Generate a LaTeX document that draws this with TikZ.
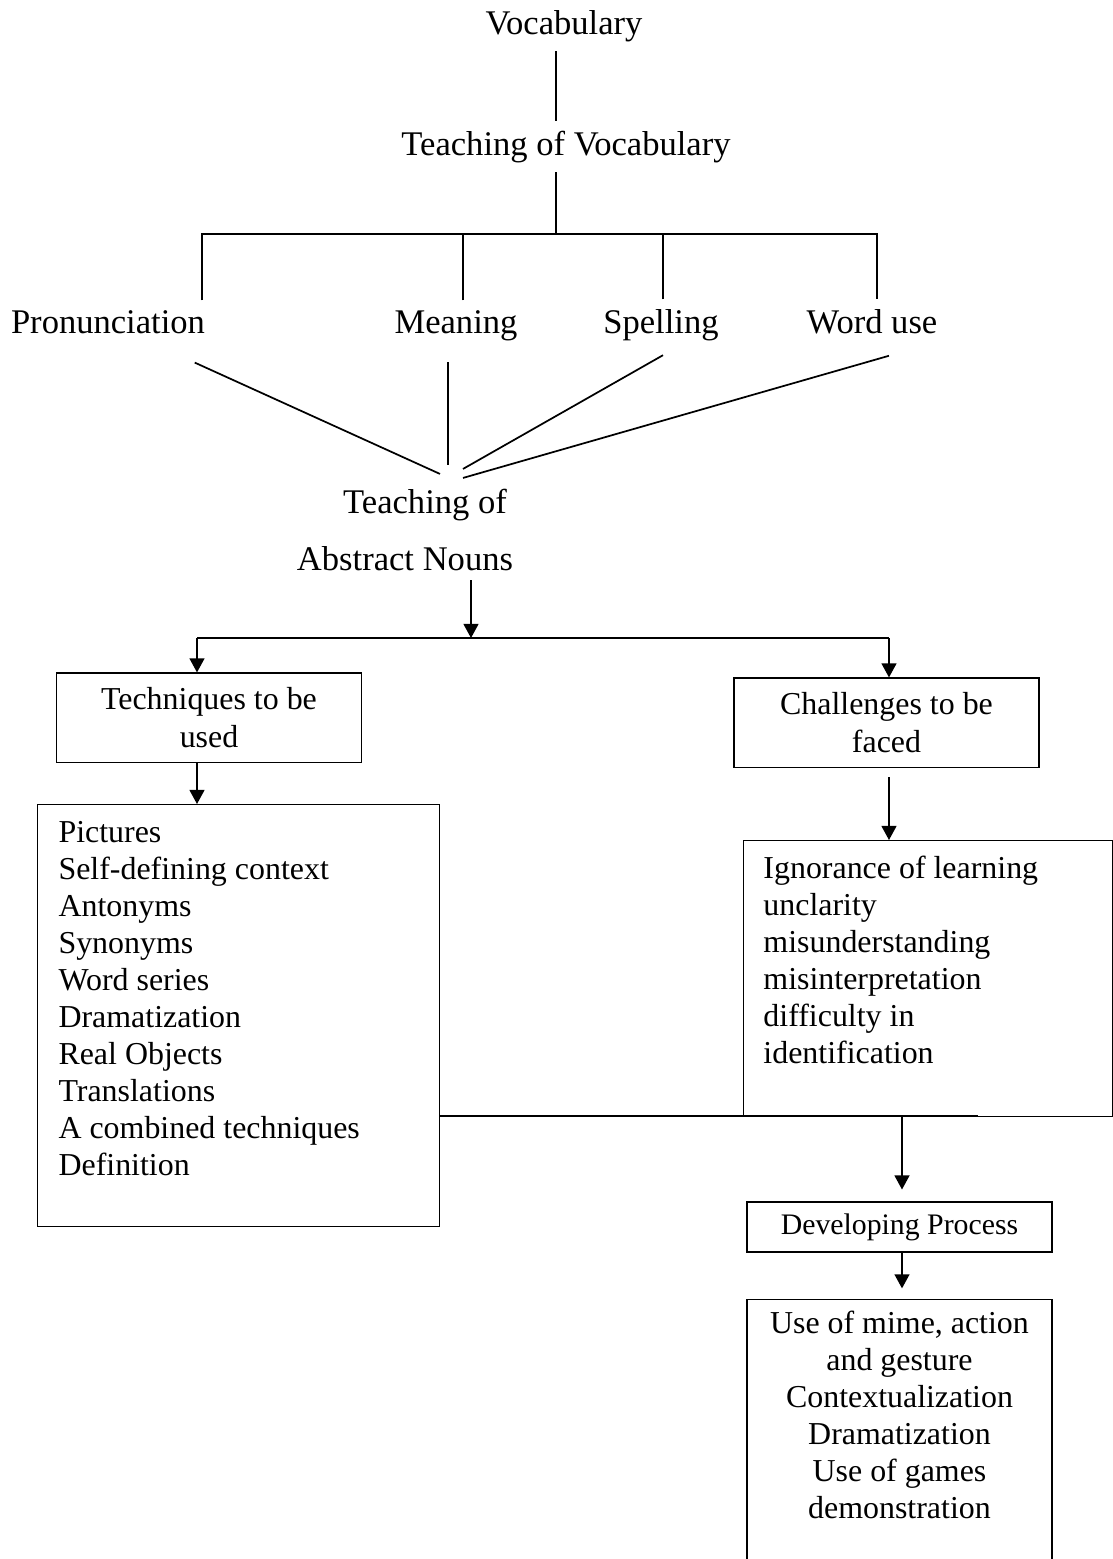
\documentclass[tikz,border=0pt]{standalone}
\usepackage{fontspec}
\setmainfont{Liberation Serif}
\usetikzlibrary{calc}
\usetikzlibrary{arrows.meta}

\begin{document}
\begin{tikzpicture}[
     x=0.376pt, y=-0.376pt,
     line width=0.65pt,
     lbl/.style={font=\fontsize{13}{15.6}\selectfont, anchor=base},
     box/.style={draw, line width=0.4pt, align=center, minimum width=114.7pt,
       font=\fontsize{12}{14.2}\selectfont},
     listbox/.style={draw, line width=0.4pt, inner ysep=0pt,
       font=\fontsize{12}{13.9}\selectfont},
     arr/.style={-{Triangle[width=5.6pt,length=5.3pt]}}
   ]
   \useasboundingbox (0,0) rectangle (1113,1559);
   % Vocabulary tree.
   \node[lbl] (vocab) at (564,34) {Vocabulary};
   \node[lbl] (teachvoc) at (566,155) {Teaching of Vocabulary};
   \coordinate (bar) at (556,234);
   \node[lbl] (pron) at (108,333) {Pronunciation};
   \node[lbl] (meaning) at (456,333) {Meaning};
   \node[lbl] (spelling) at (661,333) {Spelling};
   \node[lbl] (worduse) at (872,333) {Word use};
   \draw (vocab.south -| bar) -- (teachvoc.north -| bar);
   \draw (teachvoc.south -| bar) -- (bar);
   \draw (202,0 |- pron.north) |- (bar) -| (877,0 |- worduse.north);
   \draw (463,0 |- meaning.north) -- (463,0 |- bar);
   \draw (663,0 |- spelling.north) -- (663,0 |- bar);
   % Abstract nouns.
   \node[lbl] (abs1) at (425,513) {Teaching of};
   \node[lbl] (abs2) at (405,570) {Abstract Nouns};
   \draw ([shift={(-20,19.5)}]pron.south east) -- ([shift={(15,-5)}]abs1.north);
   \draw ([shift={(-8,12)}]meaning.south) -- ([shift={(23,-14)}]abs1.north);
   \draw ([shift={(2,5)}]spelling.south) -- ([shift={(38,-10)}]abs1.north);
   \draw ([shift={(17,12.5)}]worduse.south) -- ([shift={(38,-1)}]abs1.north);
   \coordinate (split) at (471,638);
   \coordinate (lsplit) at (197,638);
   \coordinate (rsplit) at (889,638);
   \draw[arr] (split |- abs2.south) -- (split);
   \draw (lsplit) -- (rsplit);
   % Techniques and challenges.
   \node[box, minimum height=33.5pt] (tech) at (209,717.5) {Techniques to be\\used};
   \node[box, minimum height=33.5pt] (chal) at (886.5,722.5) {Challenges to be\\faced};
   \draw[arr] (lsplit) -- (lsplit |- tech.north);
   \draw[arr] (rsplit) -- (rsplit |- chal.north);
   \node[listbox, anchor=north west, inner xsep=7.9pt] (techlist) at (37,804)
     {\parbox[t][158.7pt][t]{135.4pt}{\rule{0pt}{14.3pt}Pictures\\Self-defining context\\
       Antonyms\\Synonyms\\Word series\\Dramatization\\Real Objects\\Translations\\
       A combined techniques\\Definition}};
   \node[listbox, anchor=north west, inner xsep=7.5pt] (challist) at (743,840)
     {\parbox[t][103.8pt][t]{123.7pt}{\rule{0pt}{14.3pt}Ignorance of learning\\unclarity\\
       misunderstanding\\misinterpretation\\difficulty in\\identification}};
   \draw[arr] (lsplit |- tech.south) -- (lsplit |- techlist.north);
   \draw[arr] ([yshift=-3.7pt]rsplit |- chal.south) -- (rsplit |- challist.north);
   % Developing process.
   \coordinate (join) at (978,1116);
   \coordinate (drop) at (902,1116);
   \draw (techlist.east |- join) -- (join);
   \node[box, minimum height=18.8pt, font=\fontsize{11.2}{13}\selectfont] (dev) at (899.5,1227) {Developing Process};
   \node[listbox, anchor=north, inner xsep=2pt] (usebox) at (899.5,1299)
     {\parbox[t][105.7pt][t]{110.7pt}{\centering\rule{0pt}{12.8pt}Use of mime, action\\and gesture\\
       Contextualization\\Dramatization\\Use of games\\demonstration}};
   \draw[arr, shorten >=4.5pt] (drop) -- (drop |- dev.north);
   \draw[arr, shorten >=4pt] (drop |- dev.south) -- (drop |- usebox.north);
 \end{tikzpicture}
\end{document}
